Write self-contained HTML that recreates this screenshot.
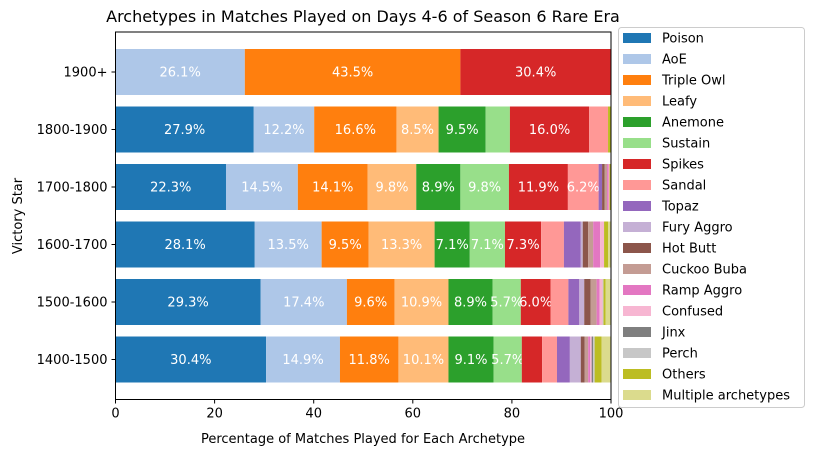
<!DOCTYPE html>
<html><head><meta charset="utf-8"><style>
body{margin:0;background:#fff;}
svg{display:block;font-family:"DejaVu Sans","Liberation Sans",sans-serif;}
</style></head><body>
<svg id="chart" width="814" height="455" viewBox="0 0 814 455"></svg>
<script>
const categories = ["1900+","1800-1900","1700-1800","1600-1700","1500-1600","1400-1500"];
const archetypes = ["Poison","AoE","Triple Owl","Leafy","Anemone","Sustain","Spikes","Sandal","Topaz","Fury Aggro","Hot Butt","Cuckoo Buba","Ramp Aggro","Confused","Jinx","Perch","Others","Multiple archetypes"];
const colors = ["#1f77b4","#aec7e8","#ff7f0e","#ffbb78","#2ca02c","#98df8a","#d62728","#ff9896","#9467bd","#c5b0d5","#8c564b","#c49c94","#e377c2","#f7b6d2","#7f7f7f","#c7c7c7","#bcbd22","#dbdb8d"];
const row1900 = [0,26.1,43.5,0,0,0,30.4,0,0,0,0,0,0,0,0,0,0,0];
const row1800 = [27.9,12.2,16.6,8.5,9.5,4.9,16.0,3.8,0,0,0,0,0,0,0,0,0.6,0];
const row1700 = [22.3,14.5,14.1,9.8,8.9,9.8,11.9,6.2,0.7,0,0.5,0.5,0.3,0.2,0,0,0.3,0];
const row1600 = [28.1,13.5,9.5,13.3,7.1,7.1,7.3,4.6,3.4,0.4,1.1,1.0,1.4,0.8,0,0,0.8,0.6];
const row1500 = [29.3,17.4,9.6,10.9,8.9,5.7,6.0,3.6,2.2,1.0,1.3,1.2,0.6,0.6,0,0.2,0.4,1.2];
const row1400 = [30.4,14.9,11.8,10.1,9.1,5.7,4.1,3.0,2.6,2.2,0.8,0.7,0.4,0.3,0.3,0.3,1.4,1.9];
const rows = [row1900,row1800,row1700,row1600,row1500,row1400];
const xTicks = [0,20,40,60,80,100];

const NS="http://www.w3.org/2000/svg";
const svg=document.getElementById('chart');
const L=115.5,R=611,T=32,B=399.5;
const xs=v=>L+(v/100)*(R-L);
const step=57.5, y0=72;
const ys=i=>y0+i*step;
const bh=46;
function mk(tag,attrs,parent){const e=document.createElementNS(NS,tag);for(const k in attrs)e.setAttribute(k,attrs[k]);(parent||svg).appendChild(e);return e;}

rows.forEach((vals,i)=>{
  let cum=0;
  vals.forEach((v,j)=>{
    if(v<=0)return;
    const r=mk('rect',{x:xs(cum),y:ys(i)-bh/2,width:xs(cum+v)-xs(cum),height:bh,fill:colors[j]});
    
    
    if(v>=5){
      const t=mk('text',{x:(xs(cum)+xs(cum+v))/2,y:ys(i)+4.5,'text-anchor':'middle','font-size':'13',fill:'#fff'});
      t.textContent=v.toFixed(1)+'%';
      
      
    }
    cum+=v;
  });
  mk('line',{x1:L-4,x2:L,y1:ys(i),y2:ys(i),stroke:'#000','stroke-width':1});
  const yl=mk('text',{x:L-8,y:ys(i)+4.5,'text-anchor':'end','font-size':'13',fill:'#000'});
  yl.textContent=categories[i];
  
  
});
xTicks.forEach(t=>{
  mk('line',{x1:xs(t),x2:xs(t),y1:B,y2:B+4,stroke:'#000','stroke-width':1});
  const tl=mk('text',{x:xs(t),y:B+18,'text-anchor':'middle','font-size':'13',fill:'#000'});
  tl.textContent=t;
  
  
});
const frame=mk('rect',{x:L,y:T,width:R-L,height:B-T,fill:'none',stroke:'#000','stroke-width':1});


</script>
<svg width="814" height="455" style="position:absolute;left:0;top:0" font-family="DejaVu Sans, Liberation Sans, sans-serif">
<text x="363" y="22" text-anchor="middle" font-size="16">Archetypes in Matches Played on Days 4-6 of Season 6 Rare Era</text>
<text x="363" y="443" text-anchor="middle" font-size="13">Percentage of Matches Played for Each Archetype</text>
<text transform="translate(22,216) rotate(-90)" text-anchor="middle" font-size="13">Victory Star</text>
<g id="legend">
<rect x="618.5" y="27.5" width="186" height="380" rx="3" fill="#fff" fill-opacity="0.8" stroke="#ccc"/>
</g>
</svg>
<script>
(function(){
const g=document.getElementById('legend');
archetypes.forEach((a,i)=>{
  const cy=38+i*21;
  const r=document.createElementNS(NS,'rect');
  r.setAttribute('x',623);r.setAttribute('y',cy-5);r.setAttribute('width',28);r.setAttribute('height',10);r.setAttribute('fill',colors[i]);
  
  
  g.appendChild(r);
  const t=document.createElementNS(NS,'text');
  t.setAttribute('x',662);t.setAttribute('y',cy+4.5);t.setAttribute('font-size','13');
  t.textContent=a;
  
  
  g.appendChild(t);
});
})();
</script>
</body></html>
